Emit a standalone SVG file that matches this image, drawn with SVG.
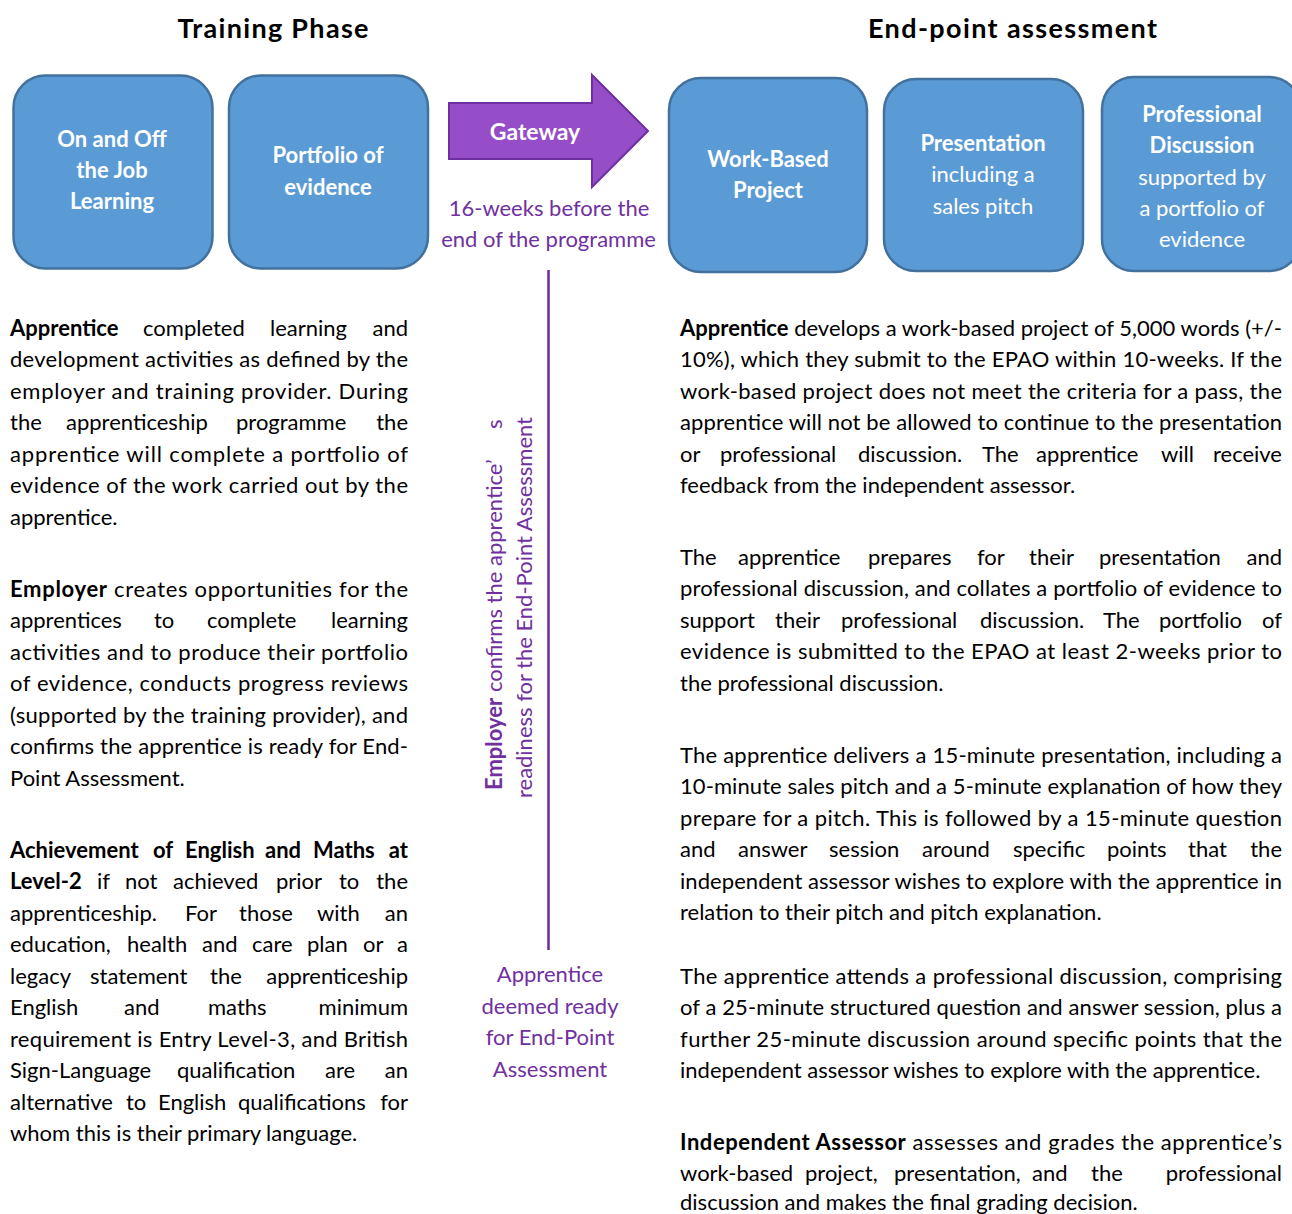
<svg xmlns="http://www.w3.org/2000/svg" width="1292" height="1214" viewBox="0 0 1292 1214">
<style>
text{font-family:Lato,"Liberation Sans",sans-serif}
.t{font-size:22px;fill:#000}
.b{font-weight:bold}
.e{text-anchor:end}
.title{font-size:27px;font-weight:bold;fill:#000;text-anchor:middle}
.box{fill:#5B9BD5;stroke:#41719C;stroke-width:2.5}
.bt{font-size:22px;fill:#fff;text-anchor:middle}
.p{font-size:22px;fill:#7030A0}
.pc{text-anchor:middle}
</style>
<rect width="1292" height="1214" fill="#fff"/>
<g id="titles">
<text class="title" x="273" y="38" textLength="191">Training Phase</text>
<text class="title" x="1012.5" y="38" textLength="289">End-point assessment</text>
</g>
<g id="connectors">
<line x1="548.5" y1="270" x2="548.5" y2="950" stroke="#7030A0" stroke-width="2.6"/>
</g>
<g id="node-learning">
<rect class="box" x="13.5" y="75.5" width="199" height="193" rx="32"/>
<text class="bt b" x="112" y="147">On and Off</text>
<text class="bt b" x="112" y="178">the Job</text>
<text class="bt b" x="112" y="209">Learning</text>
</g>
<g id="node-portfolio">
<rect class="box" x="229" y="75.5" width="199" height="193" rx="32"/>
<text class="bt b" x="328" y="163">Portfolio of</text>
<text class="bt b" x="328" y="195">evidence</text>
</g>
<g id="node-gateway">
<polygon points="449,103 592,103 592,75 648,131 592,187 592,159 449,159" fill="#954EC8" stroke="#6E2FA0" stroke-width="2"/>
<text class="bt b" x="535" y="140" style="font-size:23px">Gateway</text>
<text class="p pc" x="549" y="216">16-weeks before the</text>
<text class="p pc" x="548.5" y="247">end of the programme</text>
</g>
<g id="node-wbp">
<rect class="box" x="669" y="78" width="198" height="194" rx="32"/>
<text class="bt b" x="768" y="167">Work-Based</text>
<text class="bt b" x="768" y="198">Project</text>
</g>
<g id="node-presentation">
<rect class="box" x="884" y="79" width="199" height="192" rx="32"/>
<text class="bt b" x="983" y="151">Presentation</text>
<text class="bt" x="983" y="182">including a</text>
<text class="bt" x="983" y="214">sales pitch</text>
</g>
<g id="node-discussion">
<rect class="box" x="1102" y="77" width="199" height="194" rx="32"/>
<text class="bt b" x="1202" y="122">Professional</text>
<text class="bt b" x="1202" y="153">Discussion</text>
<text class="bt" x="1202" y="185">supported by</text>
<text class="bt" x="1202" y="216">a portfolio of</text>
<text class="bt" x="1202" y="247">evidence</text>
</g>
<g id="node-employer-confirms">
<text class="p" transform="translate(502,790) rotate(-90)"><tspan class="b">Employer</tspan> confirms the apprentice’<tspan x="361">s</tspan></text>
<text class="p" transform="translate(532,798) rotate(-90)" textLength="381">readiness for the End-Point Assessment</text>
</g>
<g id="node-ready">
<text class="p pc" x="550" y="982">Apprentice</text>
<text class="p pc" x="550" y="1014">deemed ready</text>
<text class="p pc" x="550" y="1045">for End-Point</text>
<text class="p pc" x="550" y="1077">Assessment</text>
</g>
<g id="text-left">
<text class="t" y="335.5"><tspan class="b" x="10">Apprentice</tspan><tspan x="143">completed</tspan><tspan x="270">learning</tspan><tspan class="e" x="408">and</tspan></text>
<text class="t" x="10" y="367" textLength="398">development activities as defined by the</text>
<text class="t" x="10" y="398.6" textLength="398">employer and training provider. During</text>
<text class="t" y="430.1"><tspan x="10">the</tspan><tspan x="66">apprenticeship</tspan><tspan x="236">programme</tspan><tspan class="e" x="408">the</tspan></text>
<text class="t" x="10" y="461.7" textLength="398">apprentice will complete a portfolio of</text>
<text class="t" x="10" y="493.2" textLength="398">evidence of the work carried out by the</text>
<text class="t" x="10" y="524.8">apprentice.</text>

<text class="t" x="10" y="596.5" textLength="398"><tspan class="b">Employer</tspan> creates opportunities for the</text>
<text class="t" y="628"><tspan x="10">apprentices</tspan><tspan x="154">to</tspan><tspan x="207">complete</tspan><tspan class="e" x="408">learning</tspan></text>
<text class="t" x="10" y="659.6" textLength="398">activities and to produce their portfolio</text>
<text class="t" x="10" y="691.1" textLength="398">of evidence, conducts progress reviews</text>
<text class="t" x="10" y="722.7" textLength="398">(supported by the training provider), and</text>
<text class="t" x="10" y="754.2" textLength="398">confirms the apprentice is ready for End-</text>
<text class="t" x="10" y="785.8">Point Assessment.</text>

<text class="t b" y="857.5"><tspan x="10">Achievement</tspan><tspan x="153">of</tspan><tspan x="185">English</tspan><tspan x="265">and</tspan><tspan x="313">Maths</tspan><tspan class="e" x="408">at</tspan></text>
<text class="t" y="889"><tspan class="b" x="10">Level-2</tspan><tspan x="97">if</tspan><tspan x="125">not</tspan><tspan x="173">achieved</tspan><tspan x="276">prior</tspan><tspan x="339">to</tspan><tspan class="e" x="408">the</tspan></text>
<text class="t" y="920.6"><tspan x="10">apprenticeship.</tspan><tspan x="185">For</tspan><tspan x="239">those</tspan><tspan x="317">with</tspan><tspan class="e" x="408">an</tspan></text>
<text class="t" y="952.1"><tspan x="10">education,</tspan><tspan x="127">health</tspan><tspan x="202">and</tspan><tspan x="252">care</tspan><tspan x="307">plan</tspan><tspan x="363">or</tspan><tspan class="e" x="408">a</tspan></text>
<text class="t" y="983.7"><tspan x="10">legacy</tspan><tspan x="90">statement</tspan><tspan x="210">the</tspan><tspan class="e" x="408">apprenticeship</tspan></text>
<text class="t" y="1015.2"><tspan x="10">English</tspan><tspan x="124">and</tspan><tspan x="208">maths</tspan><tspan class="e" x="408">minimum</tspan></text>
<text class="t" x="10" y="1046.8" textLength="398">requirement is Entry Level-3, and British</text>
<text class="t" y="1078.3"><tspan x="10">Sign-Language</tspan><tspan x="177">qualification</tspan><tspan x="325">are</tspan><tspan class="e" x="408">an</tspan></text>
<text class="t" y="1109.9"><tspan x="10">alternative</tspan><tspan x="126">to</tspan><tspan x="158">English</tspan><tspan x="238">qualifications</tspan><tspan class="e" x="408">for</tspan></text>
<text class="t" x="10" y="1141.4">whom this is their primary language.</text>
</g>
<g id="text-right">
<text class="t" x="680" y="335.5" textLength="602"><tspan class="b">Apprentice</tspan> develops a work-based project of 5,000 words (+/-</text>
<text class="t" x="680" y="367" textLength="602">10%), which they submit to the EPAO within 10-weeks. If the</text>
<text class="t" x="680" y="398.6" textLength="602">work-based project does not meet the criteria for a pass, the</text>
<text class="t" x="680" y="430.1" textLength="602">apprentice will not be allowed to continue to the presentation</text>
<text class="t" y="461.7"><tspan x="680">or</tspan><tspan x="720">professional</tspan><tspan x="858">discussion.</tspan><tspan x="982">The</tspan><tspan x="1036">apprentice</tspan><tspan x="1161">will</tspan><tspan class="e" x="1282">receive</tspan></text>
<text class="t" x="680" y="493.2">feedback from the independent assessor.</text>

<text class="t" y="564.5"><tspan x="680">The</tspan><tspan x="738">apprentice</tspan><tspan x="868">prepares</tspan><tspan x="977">for</tspan><tspan x="1029">their</tspan><tspan x="1099">presentation</tspan><tspan class="e" x="1282">and</tspan></text>
<text class="t" x="680" y="596" textLength="602">professional discussion, and collates a portfolio of evidence to</text>
<text class="t" y="627.6"><tspan x="680">support</tspan><tspan x="775">their</tspan><tspan x="841">professional</tspan><tspan x="980">discussion.</tspan><tspan x="1103">The</tspan><tspan x="1159">portfolio</tspan><tspan class="e" x="1282">of</tspan></text>
<text class="t" x="680" y="659.1" textLength="602">evidence is submitted to the EPAO at least 2-weeks prior to</text>
<text class="t" x="680" y="690.7">the professional discussion.</text>

<text class="t" x="680" y="762.5" textLength="602">The apprentice delivers a 15-minute presentation, including a</text>
<text class="t" x="680" y="794" textLength="602">10-minute sales pitch and a 5-minute explanation of how they</text>
<text class="t" x="680" y="825.6" textLength="602">prepare for a pitch. This is followed by a 15-minute question</text>
<text class="t" y="857.1"><tspan x="680">and</tspan><tspan x="738">answer</tspan><tspan x="829">session</tspan><tspan x="922">around</tspan><tspan x="1013">specific</tspan><tspan x="1107">points</tspan><tspan x="1188">that</tspan><tspan class="e" x="1282">the</tspan></text>
<text class="t" x="680" y="888.7" textLength="602">independent assessor wishes to explore with the apprentice in</text>
<text class="t" x="680" y="920.2">relation to their pitch and pitch explanation.</text>

<text class="t" x="680" y="983.5" textLength="602">The apprentice attends a professional discussion, comprising</text>
<text class="t" x="680" y="1015" textLength="602">of a 25-minute structured question and answer session, plus a</text>
<text class="t" x="680" y="1046.6" textLength="602">further 25-minute discussion around specific points that the</text>
<text class="t" x="680" y="1078.1">independent assessor wishes to explore with the apprentice.</text>

<text class="t" x="680" y="1149.5" textLength="602"><tspan class="b">Independent Assessor</tspan> assesses and grades the apprentice’s</text>
<text class="t" y="1181"><tspan x="680">work-based</tspan><tspan x="805">project,</tspan><tspan x="894">presentation,</tspan><tspan x="1032">and</tspan><tspan x="1091">the</tspan><tspan class="e" x="1282">professional</tspan></text>
<text class="t" x="680" y="1210">discussion and makes the final grading decision.</text>
</g>
</svg>
